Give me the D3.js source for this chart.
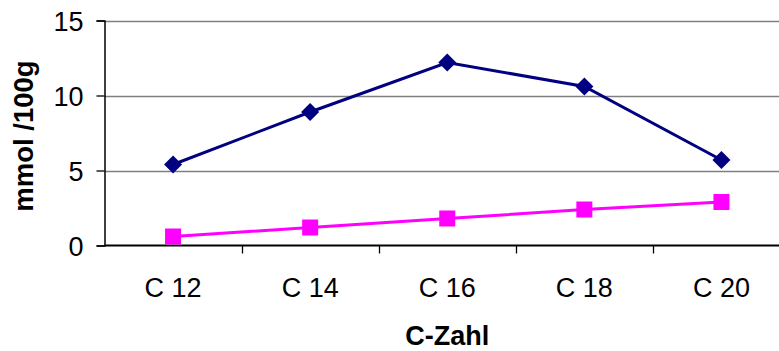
<!DOCTYPE html>
<html>
<head>
<meta charset="utf-8">
<script src="https://cdn.jsdelivr.net/npm/d3@7"></script>
<style>
  html, body { margin: 0; padding: 0; background: #fff; }
  svg { display: block; }
  text { font-family: "Liberation Sans", Arial, sans-serif; fill: #000; }
</style>
</head>
<body>
<svg id="chart" width="779" height="351"></svg>
<script>
// Fatty acid chain length vs. content (mmol/100g)
const categories = ["C 12", "C 14", "C 16", "C 18", "C 20"];
const seriesA = [5.4, 8.9, 12.2, 10.6, 5.7];
const seriesB = [0.6, 1.2, 1.8, 2.4, 2.9];
const yTicks = [0, 5, 10, 15];

const svg = d3.select("#chart");
const plot = { left: 104.5, right: 790, top: 20.5, bottom: 245.5 };

const x = d3.scaleBand().domain(categories).range([plot.left, plot.right]).padding(0);
const y = d3.scaleLinear().domain([0, 15]).range([plot.bottom, plot.top]);

// horizontal gridlines
svg.append("g")
  .selectAll("line")
  .data(yTicks.filter(t => t > 0))
  .join("line")
  .attr("x1", plot.left).attr("x2", plot.right)
  .attr("y1", d => Math.round(y(d)) + 0.5).attr("y2", d => Math.round(y(d)) + 0.5)
  .attr("stroke", "#7f7f7f").attr("stroke-width", 1.3);

// y axis
const yAxis = svg.append("g")
  .attr("transform", `translate(${plot.left},0)`)
  .call(d3.axisLeft(y).tickValues(yTicks).tickSize(8).tickPadding(13).tickFormat(d3.format("d")));
yAxis.select(".domain").attr("stroke", "#000").attr("stroke-width", 1.5);
yAxis.selectAll(".tick line").attr("stroke", "#000").attr("stroke-width", 1.3);
yAxis.selectAll(".tick text").style("font-size", "27px").attr("dy", "0.36em");

// x axis with ticks at category boundaries
const xAxisG = svg.append("g").attr("transform", `translate(0,${plot.bottom})`);
xAxisG.append("line")
  .attr("x1", plot.left).attr("x2", plot.right)
  .attr("stroke", "#000").attr("stroke-width", 1.8);
const boundaries = categories.slice(1).map(c => x(c));
xAxisG.selectAll(".bt")
  .data(boundaries)
  .join("line")
  .attr("x1", d => Math.round(d) + 0.5).attr("x2", d => Math.round(d) + 0.5)
  .attr("y1", 0).attr("y2", 8)
  .attr("stroke", "#000").attr("stroke-width", 1.3);
xAxisG.selectAll(".cl")
  .data(categories)
  .join("text")
  .attr("x", d => x(d) + x.bandwidth() / 2)
  .attr("y", 51)
  .attr("text-anchor", "middle")
  .style("font-size", "27px")
  .text(d => d);

// axis titles
svg.append("text")
  .attr("x", (plot.left + plot.right) / 2)
  .attr("y", 345)
  .attr("text-anchor", "middle")
  .style("font-size", "27px").style("font-weight", "bold")
  .text("C-Zahl");
svg.append("text")
  .attr("transform", `translate(33,${(plot.top + plot.bottom) / 2 + 3}) rotate(-90)`)
  .attr("text-anchor", "middle")
  .style("font-size", "27.5px").style("font-weight", "bold")
  .text("mmol /100g");

const cx = d => x(d) + x.bandwidth() / 2;
const line = d3.line().x(d => cx(d.c)).y(d => y(d.v));

const dataA = categories.map((c, i) => ({ c, v: seriesA[i] }));
const dataB = categories.map((c, i) => ({ c, v: seriesB[i] }));

// series B: magenta line with squares
svg.append("path").datum(dataB)
  .attr("d", line).attr("fill", "none")
  .attr("stroke", "#ff00ff").attr("stroke-width", 3);
svg.append("g").selectAll("rect")
  .data(dataB).join("rect")
  .attr("x", d => cx(d.c) - 8).attr("y", d => y(d.v) - 8)
  .attr("width", 16).attr("height", 16)
  .attr("fill", "#ff00ff");

// series A: navy line with diamonds
svg.append("path").datum(dataA)
  .attr("d", line).attr("fill", "none")
  .attr("stroke", "#000080").attr("stroke-width", 3);
svg.append("g").selectAll("path")
  .data(dataA).join("path")
  .attr("transform", d => `translate(${cx(d.c)},${y(d.v)})`)
  .attr("d", "M0,-9L9,0L0,9L-9,0Z")
  .attr("fill", "#000080");
</script>
</body>
</html>
